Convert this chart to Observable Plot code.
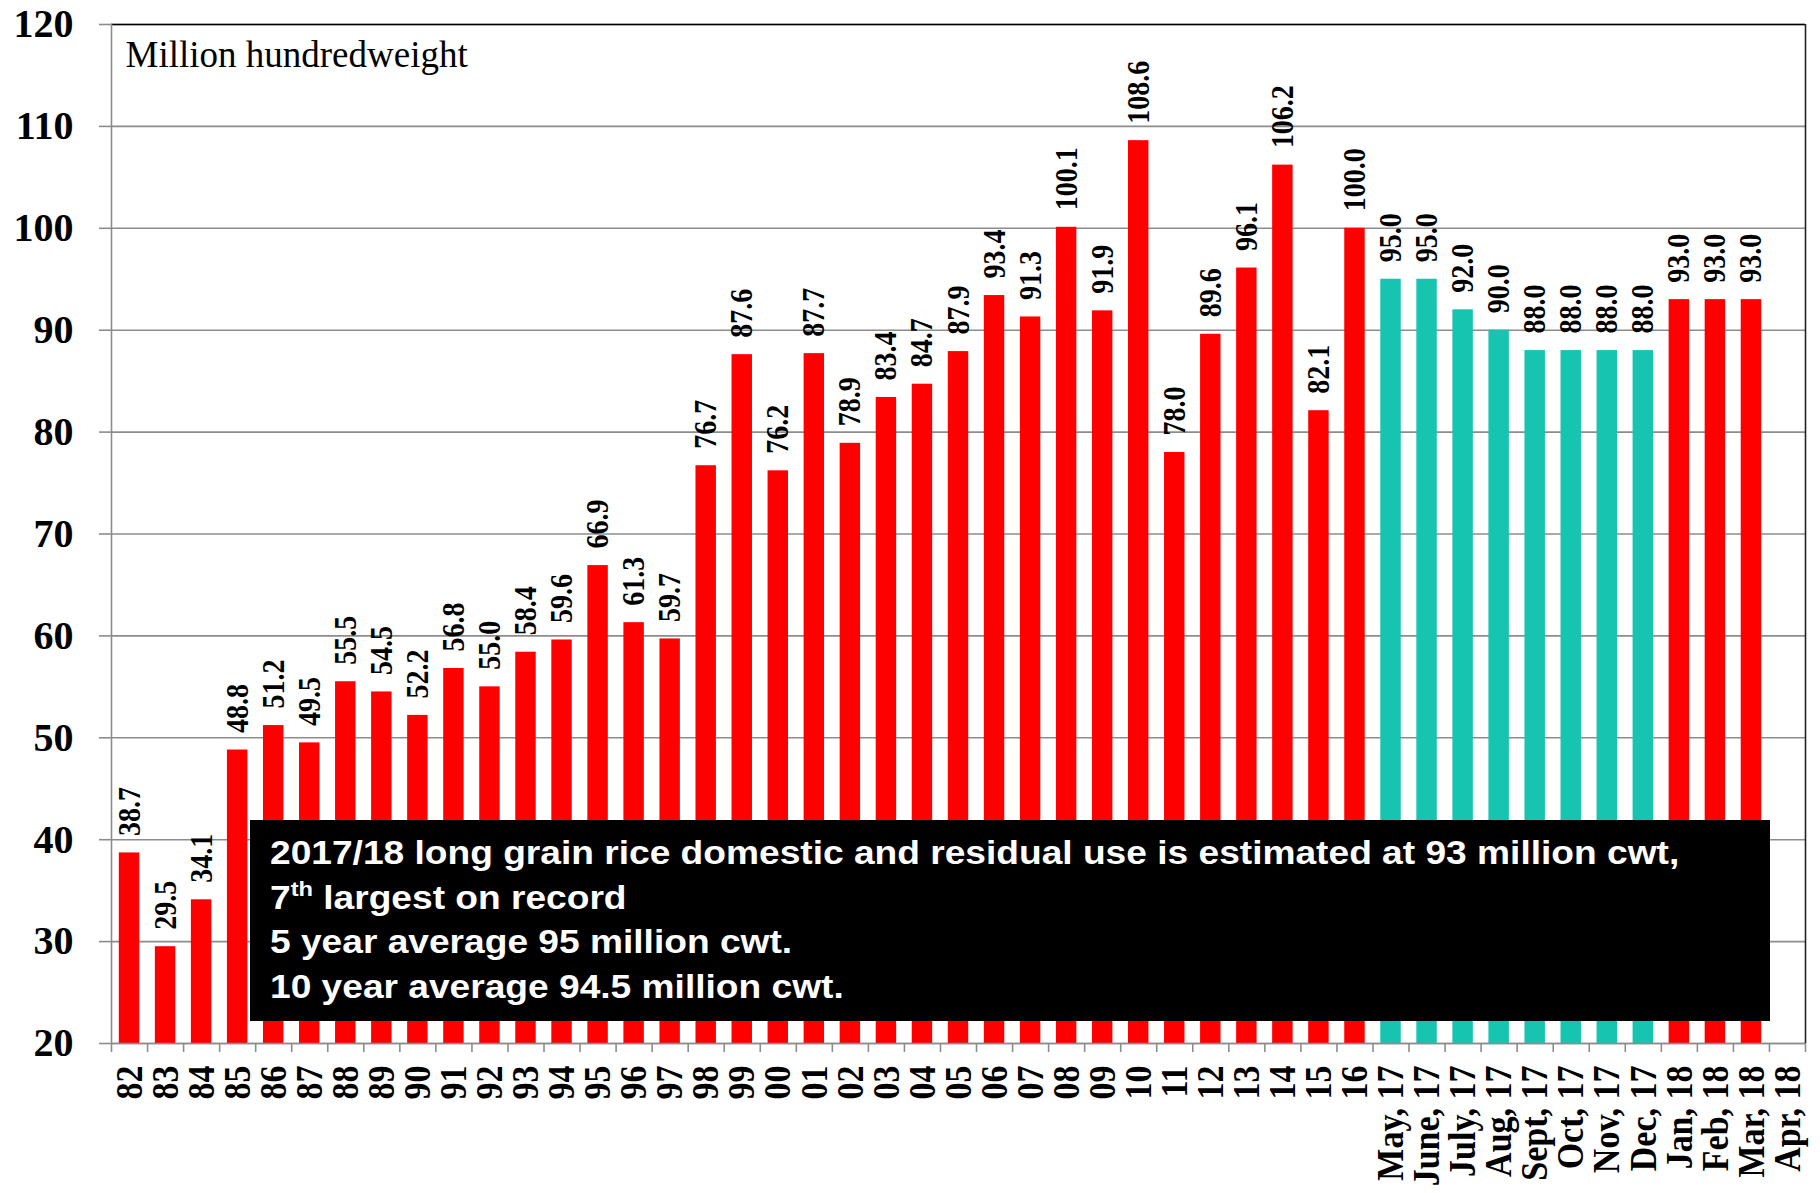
<!DOCTYPE html>
<html>
<head>
<meta charset="utf-8">
<script src="https://cdn.jsdelivr.net/npm/d3@7"></script>
<script src="https://cdn.jsdelivr.net/npm/@observablehq/plot@0.6"></script>
<style>
  html, body { margin: 0; padding: 0; background: #fff; }
  #wrap { position: relative; width: 1820px; height: 1193px; overflow: hidden; }
  #note {
    position: absolute; left: 250px; top: 820px; width: 1520px; height: 201px;
    background: #000; color: #fff; box-sizing: border-box;
    font-family: "Liberation Sans", Arial, sans-serif; font-weight: bold;
  }
  #note .lines {
    position: absolute; left: 20px; top: 11px; font-size: 33px; line-height: 44.7px;
    transform: scaleX(1.125); transform-origin: left top; white-space: nowrap;
  }
  #note sup { font-size: 21px; line-height: 0; vertical-align: 13px; }
</style>
</head>
<body>
<div id="wrap"></div>
<script>
// Categories and values
const years = ["82","83","84","85","86","87","88","89","90","91","92","93","94","95","96","97","98","99",
               "00","01","02","03","04","05","06","07","08","09","10","11","12","13","14","15","16"];
const yearValues = [38.7,29.5,34.1,48.8,51.2,49.5,55.5,54.5,52.2,56.8,55.0,58.4,59.6,66.9,61.3,59.7,76.7,87.6,
                    76.2,87.7,78.9,83.4,84.7,87.9,93.4,91.3,100.1,91.9,108.6,78.0,89.6,96.1,106.2,82.1,100.0];
const months = ["May, 17","June, 17","July, 17","Aug, 17","Sept, 17","Oct, 17","Nov, 17","Dec, 17",
                "Jan, 18","Feb, 18","Mar, 18","Apr, 18"];
const monthValues = [95.0,95.0,92.0,90.0,88.0,88.0,88.0,88.0,93.0,93.0,93.0,null];
const monthGroups = ["early","early","early","early","early","early","early","early","main","main","main",null];
const yTicks = [20,30,40,50,60,70,80,90,100,110,120];
const unitLabel = "Million hundredweight";
const noteLines = [
  "2017/18 long grain rice domestic and residual use is estimated at 93 million cwt,",
  "7<sup>th</sup> largest on record",
  "5 year average 95 million cwt.",
  "10 year average 94.5 million cwt."
];

const categories = years.concat(months);
const values = yearValues.concat(monthValues);
const groups = years.map(() => "main").concat(monthGroups);
const data = categories.map((label, i) => ({i, label, value: values[i], group: groups[i]}));
const bars = data.filter(d => d.value != null);
const n = categories.length;

const serif = "'Liberation Serif', 'Times New Roman', serif";

const chart = Plot.plot({
  width: 1820,
  height: 1193,
  marginLeft: 111,
  marginRight: 15,
  marginTop: 24,
  marginBottom: 150,
  x: {domain: [0, n], axis: null},
  y: {domain: [20, 120], axis: null},
  color: {type: "ordinal", domain: ["main", "early"], range: ["#ff0000", "#16c4b0"]},
  style: {background: "white", fontFamily: serif, overflow: "visible"},
  marks: [
    Plot.gridY({ticks: yTicks, stroke: "#8c8c8c", strokeOpacity: 1, strokeWidth: 1.6}),
    Plot.rect(bars, {x1: "i", x2: d => d.i + 1, y1: 20, y2: "value", fill: "group", insetLeft: 7.8, insetRight: 7.8}),
    Plot.ruleY([120], {stroke: "#000", strokeWidth: 1.6}),
    Plot.ruleX([n], {stroke: "#222", strokeWidth: 1.6}),
    Plot.ruleX([0], {stroke: "#8c8c8c", strokeWidth: 1.6}),
    Plot.ruleY([20], {stroke: "#8c8c8c", strokeWidth: 1.6}),
    Plot.axisY({ticks: yTicks, tickSize: 12, tickPadding: 26, stroke: "#8c8c8c", strokeWidth: 1.6,
                fill: "#000", fontSize: 40, fontWeight: "bold", fontFamily: serif, label: null}),
    Plot.axisX({ticks: d3.range(0, n + 1), tickSize: 9, tickFormat: () => "", stroke: "#8c8c8c",
                strokeWidth: 1.6, label: null}),
    Plot.text(data, {x: d => d.i + 0.5, y: 20, text: "label", rotate: -90, textAnchor: "end", dy: 22,
                     fontSize: 34, fontWeight: "bold", fontFamily: serif, fill: "#000"}),
    Plot.text(bars, {x: d => d.i + 0.5, y: "value", text: d => d.value.toFixed(1), rotate: -90,
                     textAnchor: "start", dy: -17, fontSize: 28, fontWeight: "bold", fontFamily: serif, fill: "#000"}),
    Plot.text([unitLabel], {frameAnchor: "top-left", textAnchor: "start", lineAnchor: "top", dx: 14, dy: 16,
                            fontSize: 37, fontFamily: serif, fill: "#000"})
  ]
});

// the source image is slightly wider than tall: widen rotated glyphs a little
d3.select(chart).selectAll("text").each(function() {
  const t = this.getAttribute("transform");
  if (t && t.includes("rotate")) this.setAttribute("transform", t + " scale(1,1.12)");
});

const wrap = document.getElementById("wrap");
wrap.appendChild(chart);
const note = document.createElement("div");
note.id = "note";
note.innerHTML = '<div class="lines">' + noteLines.join("<br>") + '</div>';
wrap.appendChild(note);
</script>
</body>
</html>
